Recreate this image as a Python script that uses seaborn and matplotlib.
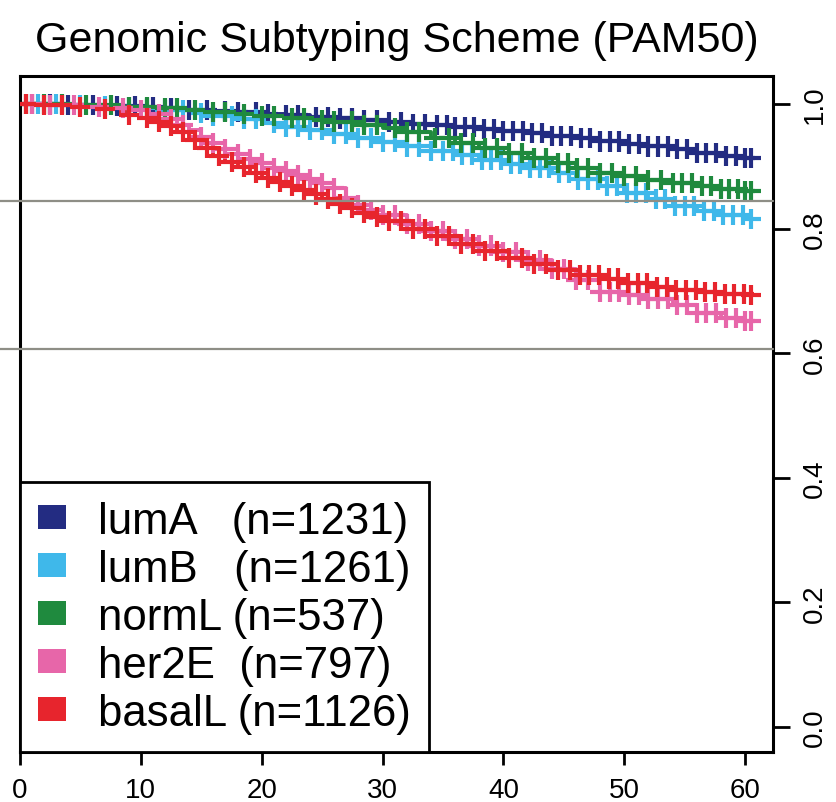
import numpy as np
import pandas as pd
import matplotlib
matplotlib.use("Agg")
import matplotlib.pyplot as plt
from matplotlib.patches import Patch
import seaborn as sns

# ---- data -------------------------------------------------------------
subtypes = ["lumA", "lumB", "normL", "her2E", "basalL"]
labels = ["lumA   (n=1231)", "lumB   (n=1261)", "normL (n=537)",
          "her2E  (n=797)", "basalL (n=1126)"]
colors = ["#232c82", "#3fb8ea", "#1f8a3e", "#e766a9", "#e7252d"]
end_time = 60.5

# survival steps: (months, proportion surviving)
lumA_time = [0, 2, 4, 6, 8, 10, 12, 14, 16, 18, 20, 22, 24, 26, 28, 30,
             32, 34, 36, 38, 40, 42, 44, 46, 48, 50, 52, 54, 56, 58, 60]
lumA_surv = [1.000, 1.000, 0.999, 0.998, 0.997, 0.995, 0.993, 0.991, 0.989,
             0.987, 0.984, 0.982, 0.980, 0.977, 0.974, 0.971, 0.968, 0.966,
             0.963, 0.960, 0.957, 0.953, 0.949, 0.945, 0.940, 0.936, 0.932,
             0.928, 0.922, 0.917, 0.913]
lumB_time = lumA_time
lumB_surv = [1.000, 1.000, 0.999, 0.997, 0.995, 0.993, 0.990, 0.986, 0.981,
             0.976, 0.970, 0.964, 0.958, 0.952, 0.946, 0.939, 0.932, 0.925,
             0.918, 0.911, 0.904, 0.897, 0.889, 0.879, 0.868, 0.857, 0.847,
             0.837, 0.829, 0.822, 0.816]
normL_time = lumA_time
normL_surv = [1.000, 1.000, 0.999, 0.998, 0.996, 0.995, 0.993, 0.990, 0.987,
              0.984, 0.981, 0.978, 0.975, 0.972, 0.967, 0.962, 0.955, 0.946,
              0.938, 0.930, 0.922, 0.914, 0.906, 0.898, 0.890, 0.884, 0.878,
              0.873, 0.868, 0.864, 0.860]
her2E_time = [0, 2, 4, 6, 8, 10, 11, 12, 13, 14, 15, 16, 17, 18, 19, 20, 21,
              22, 23, 24, 25, 26, 27, 28, 29, 30, 32, 34, 36, 38, 40, 42, 44,
              46, 48, 50, 52, 54, 56, 58, 60]
her2E_surv = [1.000, 0.999, 0.998, 0.996, 0.994, 0.990, 0.984, 0.976, 0.967,
              0.958, 0.947, 0.937, 0.928, 0.920, 0.912, 0.905, 0.898, 0.892,
              0.886, 0.880, 0.874, 0.866, 0.850, 0.838, 0.830, 0.822, 0.808,
              0.796, 0.784, 0.773, 0.762, 0.749, 0.735, 0.718, 0.699, 0.693,
              0.687, 0.677, 0.665, 0.657, 0.652]
basalL_time = [0, 2, 4, 6, 8, 9, 10, 11, 12, 13, 14, 15, 16, 17, 18, 19, 20,
               21, 22, 23, 24, 25, 26, 27, 28, 29, 30, 32, 34, 36, 38, 40, 42,
               44, 46, 48, 50, 52, 54, 56, 58, 60]
basalL_surv = [1.000, 0.998, 0.996, 0.992, 0.988, 0.983, 0.978, 0.972, 0.965,
               0.955, 0.942, 0.929, 0.917, 0.907, 0.899, 0.890, 0.882, 0.875,
               0.869, 0.862, 0.855, 0.848, 0.840, 0.833, 0.826, 0.819, 0.812,
               0.800, 0.788, 0.776, 0.764, 0.753, 0.743, 0.734, 0.726, 0.720,
               0.713, 0.707, 0.702, 0.698, 0.695, 0.694]

# censoring times (months)
lumA_cens = [1, 2.5, 4, 6, 8, 9.5, 11, 12.5, 14, 15.5, 17, 18, 19.5, 20.5,
             22, 23, 24.5, 25.5, 26.5, 27.5, 28.5, 29.5, 30.5, 31.5, 32.5,
             33.5, 34.5, 35.3, 36, 36.8, 37.6, 38.4, 39.2, 40, 40.8, 41.6,
             42.4, 43.2, 44, 44.8, 45.6, 46.4, 47.2, 48, 48.8, 49.6, 50.4,
             51.2, 52, 52.8, 53.6, 54.4, 55.2, 56, 56.8, 57.6, 58.4, 59.2,
             60, 60.5]
lumB_cens = [1.5, 3, 5, 7, 9, 10.5, 12, 13.5, 15, 16, 17.5, 18.5, 19.5, 21,
             22, 23, 24, 25, 26, 27, 28, 29, 30, 31, 32, 33, 34, 35, 35.8,
             36.6, 37.4, 38.2, 39, 39.8, 40.6, 41.4, 42.2, 43, 43.8, 44.6,
             45.4, 46.2, 47, 47.8, 48.6, 49.4, 50.2, 51, 51.8, 52.6, 53.4,
             54.2, 55, 55.8, 56.6, 57.4, 58.2, 59, 59.8, 60.5]
normL_cens = [0.5, 2, 3.5, 5.5, 7.5, 9, 10.5, 12, 13, 14.5, 16, 17, 18.5, 20,
              21, 22.5, 23.5, 25, 26, 27.5, 28.5, 29.5, 31, 32, 33, 34.3,
              35.5, 36.5, 37.5, 38.5, 39.5, 40.5, 41.5, 42.5, 43.5, 44.5,
              45.3, 46.1, 47, 48, 49, 50, 51, 52, 53, 54, 54.8, 55.6, 56.4,
              57.2, 58, 58.7, 59.4, 60, 60.5]
her2E_cens = [1, 2.5, 4.5, 6.5, 8.5, 10, 11.5, 12.5, 13.5, 15, 16, 17, 18,
              19, 20, 21, 22, 23, 24, 25, 26, 27, 28, 29, 30, 31, 32, 33, 34,
              35, 36, 37, 38, 39, 40, 41, 42, 43, 44, 45, 46, 47, 48, 48.8,
              49.6, 50.4, 51.2, 52, 52.8, 53.6, 54.4, 55.2, 56, 56.8, 57.6,
              58.4, 59.2, 60, 60.5]
basalL_cens = [0.5, 2, 3.5, 5, 7, 9, 10.5, 11.5, 12.5, 13.5, 14.5, 15.5, 16.5,
               17.5, 18.5, 19.5, 20.5, 21.5, 22.5, 23.5, 24.5, 25.5, 26.5,
               27.5, 28.5, 29.5, 30.5, 31.5, 32.5, 33.5, 34.5, 35.5, 36.5,
               37.5, 38.5, 39.5, 40.5, 41.5, 42.5, 43.5, 44.5, 45.5, 46.3,
               47.1, 47.9, 48.7, 49.5, 50.3, 51.1, 51.9, 52.7, 53.5, 54.3,
               55.1, 55.9, 56.7, 57.5, 58.3, 59.1, 59.9, 60.5]

step_times = [lumA_time, lumB_time, normL_time, her2E_time, basalL_time]
survival = [lumA_surv, lumB_surv, normL_surv, her2E_surv, basalL_surv]
censored = [lumA_cens, lumB_cens, normL_cens, her2E_cens, basalL_cens]

# ---- long-form tables -------------------------------------------------
curve_rows, cens_rows = [], []
for name, times, surv, cens in zip(subtypes, step_times, survival, censored):
    t = np.array(list(times) + [end_time], dtype=float)
    s = np.array(list(surv) + [surv[-1]], dtype=float)
    curve_rows.append(pd.DataFrame({"time": t, "surv": s, "subtype": name}))
    c = np.array(cens, dtype=float)
    idx = np.searchsorted(t, c, side="right") - 1
    cens_rows.append(pd.DataFrame({"time": c, "surv": s[idx], "subtype": name}))
curves = pd.concat(curve_rows, ignore_index=True)
marks = pd.concat(cens_rows, ignore_index=True)
palette = dict(zip(subtypes, colors))

# ---- figure -----------------------------------------------------------
sns.set_style("white")
plt.rcParams["font.family"] = ["Liberation Sans", "DejaVu Sans"]
plt.rcParams["text.color"] = "black"
plt.rcParams["axes.labelcolor"] = "black"
plt.rcParams["xtick.color"] = "black"
plt.rcParams["ytick.color"] = "black"

fig = plt.figure(figsize=(8.37, 8.03), dpi=100)
ax = fig.add_axes([0.0239, 0.0623, 0.8996, 0.8417])

sns.lineplot(data=curves, x="time", y="surv", hue="subtype", palette=palette,
             hue_order=subtypes, estimator=None, sort=False,
             drawstyle="steps-post", linewidth=2.8, legend=False, ax=ax)
sns.scatterplot(data=marks, x="time", y="surv", hue="subtype", palette=palette,
                hue_order=subtypes, marker="+", s=210, linewidth=3.0,
                legend=False, ax=ax, zorder=3)

# horizontal reference rules running out to the left edge
for yv in (0.844, 0.607):
    ax.plot([-0.03, 1.0], [yv, yv], color="#8e8e86", lw=1.6,
            transform=ax.get_yaxis_transform(), clip_on=False, zorder=5)

ax.set_xlim(0, 62.3)
ax.set_ylim(-0.04, 1.045)
ax.set_xlabel("")
ax.set_ylabel("")
ax.set_xticks([0, 10, 20, 30, 40, 50, 60])
ax.set_yticks([0.0, 0.2, 0.4, 0.6, 0.8, 1.0])
ax.set_yticklabels(["0.0", "0.2", "0.4", "0.6", "0.8", "1.0"])
ax.yaxis.tick_right()
ax.tick_params(axis="x", direction="out", length=9, width=2.0, pad=9,
               labelsize=20, bottom=True, colors="black")
ax.tick_params(axis="y", direction="out", length=12, width=2.0, pad=9,
               labelsize=20, right=True, left=False, colors="black")
for lab in ax.get_yticklabels():
    lab.set_rotation(90)
    lab.set_va("center")
    lab.set_ha("left")

for sp in ax.spines.values():
    sp.set_visible(True)
    sp.set_color("black")
    sp.set_linewidth(2.2)

ax.set_title("Genomic Subtyping Scheme (PAM50)", fontsize=31, pad=18,
             color="black")

handles = [Patch(facecolor=c, edgecolor="none") for c in colors]
leg = ax.legend(handles, labels, loc="lower left", bbox_to_anchor=(0, 0),
                borderaxespad=0, fontsize=31.5, frameon=True, fancybox=False,
                framealpha=1, edgecolor="black", handlelength=0.64,
                handleheight=0.48, handletextpad=0.72, labelspacing=0.16,
                borderpad=0.42)
leg.get_frame().set_linewidth(2.0)
for txt in leg.get_texts():
    txt.set_color("black")

fig.savefig("out.png", dpi=100)
